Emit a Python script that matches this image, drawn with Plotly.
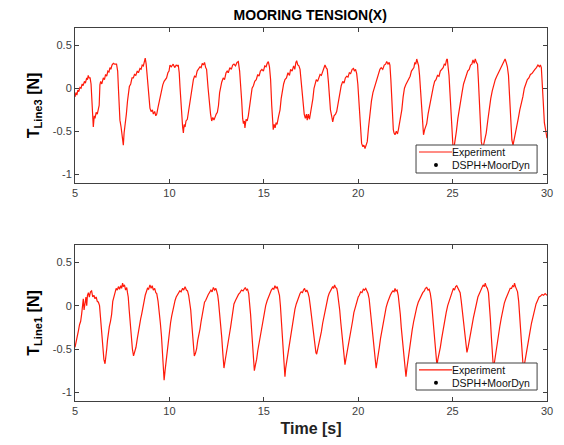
import plotly.graph_objects as go
from plotly.subplots import make_subplots

# ---- Data: (time [s], tension [N]) ----
line3_samples = [
    (5.0, -0.10), (5.05, -0.05), (5.1, -0.08), (5.15, -0.02), (5.2, -0.04), (5.26, 0.01), (5.32, 0.0),
    (5.38, 0.05), (5.43, 0.03), (5.5, 0.08), (5.55, 0.06), (5.62, 0.12), (5.66, 0.1), (5.7, 0.15),
    (5.75, 0.12), (5.8, 0.12), (5.85, 0.05), (5.9, -0.2), (5.97, -0.45), (6.02, -0.32), (6.06, -0.35),
    (6.12, -0.28), (6.18, -0.3), (6.24, -0.24), (6.28, -0.2), (6.32, 0.04), (6.36, 0.08), (6.42, 0.05),
    (6.5, 0.12), (6.56, 0.1), (6.62, 0.16), (6.68, 0.14), (6.74, 0.2), (6.8, 0.19), (6.85, 0.24),
    (6.9, 0.22), (6.96, 0.27), (7.03, 0.29), (7.1, 0.28), (7.2, 0.28), (7.26, 0.2), (7.3, 0.0),
    (7.38, -0.37), (7.44, -0.45), (7.5, -0.55), (7.56, -0.66), (7.6, -0.52), (7.65, -0.45), (7.72, -0.3),
    (7.78, -0.15), (7.82, -0.1), (7.88, 0.02), (7.95, 0.05), (8.02, 0.12), (8.09, 0.12), (8.15, 0.16),
    (8.22, 0.15), (8.3, 0.2), (8.36, 0.18), (8.44, 0.23), (8.5, 0.22), (8.56, 0.27), (8.62, 0.26),
    (8.68, 0.33), (8.72, 0.35), (8.77, 0.28), (8.83, 0.1), (8.9, -0.1), (8.97, -0.23), (9.03, -0.27),
    (9.1, -0.25), (9.15, -0.3), (9.22, -0.27), (9.28, -0.32), (9.33, -0.3), (9.4, -0.22), (9.5, -0.1),
    (9.58, -0.02), (9.65, 0.04), (9.72, 0.08), (9.77, 0.1), (9.85, 0.12), (9.92, 0.18), (9.98, 0.2),
    (10.03, 0.27), (10.1, 0.25), (10.2, 0.28), (10.28, 0.24), (10.36, 0.27), (10.42, 0.26), (10.47, 0.27),
    (10.52, 0.18), (10.56, 0.02), (10.61, -0.2), (10.65, -0.33), (10.7, -0.45), (10.74, -0.52),
    (10.78, -0.42), (10.83, -0.45), (10.88, -0.38), (10.95, -0.36), (11.02, -0.25), (11.09, -0.17),
    (11.15, -0.05), (11.2, 0.05), (11.27, 0.1), (11.33, 0.14), (11.4, 0.13), (11.47, 0.2), (11.55, 0.22),
    (11.62, 0.25), (11.68, 0.24), (11.74, 0.29), (11.8, 0.27), (11.86, 0.3), (11.92, 0.24), (11.97, 0.22),
    (12.05, 0.0), (12.12, -0.18), (12.18, -0.3), (12.24, -0.38), (12.3, -0.34), (12.36, -0.37),
    (12.41, -0.33), (12.48, -0.3), (12.54, -0.28), (12.6, -0.2), (12.66, -0.05), (12.72, 0.04),
    (12.77, 0.07), (12.85, 0.12), (12.92, 0.1), (13.0, 0.18), (13.06, 0.2), (13.12, 0.18), (13.2, 0.24),
    (13.28, 0.22), (13.35, 0.27), (13.42, 0.28), (13.5, 0.26), (13.58, 0.3), (13.65, 0.31), (13.72, 0.2),
    (13.78, 0.05), (13.83, -0.15), (13.88, -0.35), (13.92, -0.41), (13.97, -0.38), (14.0, -0.46),
    (14.06, -0.36), (14.12, -0.38), (14.18, -0.32), (14.25, -0.2), (14.32, -0.1), (14.38, 0.0),
    (14.45, 0.03), (14.52, 0.08), (14.6, 0.1), (14.68, 0.16), (14.75, 0.14), (14.82, 0.2), (14.9, 0.22),
    (14.98, 0.2), (15.05, 0.26), (15.12, 0.25), (15.18, 0.29), (15.24, 0.31), (15.3, 0.25), (15.36, 0.1),
    (15.42, -0.2), (15.47, -0.4), (15.5, -0.48), (15.55, -0.42), (15.6, -0.46), (15.65, -0.4),
    (15.7, -0.42), (15.78, -0.33), (15.86, -0.25), (15.92, -0.12), (15.98, -0.02), (16.05, 0.05),
    (16.12, 0.1), (16.2, 0.12), (16.28, 0.18), (16.36, 0.15), (16.42, 0.22), (16.5, 0.2), (16.58, 0.26),
    (16.64, 0.22), (16.7, 0.3), (16.74, 0.32), (16.8, 0.27), (16.86, 0.26), (16.92, 0.22), (16.98, 0.05),
    (17.03, -0.1), (17.08, -0.2), (17.14, -0.3), (17.2, -0.35), (17.26, -0.3), (17.3, -0.37),
    (17.36, -0.3), (17.42, -0.36), (17.48, -0.28), (17.54, -0.25), (17.6, -0.12), (17.66, 0.0),
    (17.71, 0.06), (17.78, 0.1), (17.85, 0.08), (17.92, 0.14), (17.98, 0.16), (18.05, 0.15), (18.12, 0.2),
    (18.18, 0.22), (18.24, 0.27), (18.3, 0.24), (18.36, 0.22), (18.42, 0.08), (18.48, -0.12),
    (18.53, -0.25), (18.6, -0.33), (18.65, -0.39), (18.72, -0.32), (18.8, -0.3), (18.86, -0.27),
    (18.95, -0.15), (19.04, -0.02), (19.1, 0.03), (19.18, 0.08), (19.25, 0.06), (19.32, 0.12),
    (19.39, 0.14), (19.46, 0.13), (19.53, 0.18), (19.6, 0.17), (19.68, 0.22), (19.75, 0.23), (19.8, 0.2),
    (19.86, 0.22), (19.92, 0.17), (19.98, 0.05), (20.03, -0.15), (20.08, -0.35), (20.13, -0.55),
    (20.18, -0.64), (20.25, -0.68), (20.3, -0.66), (20.36, -0.7), (20.42, -0.67), (20.48, -0.62),
    (20.55, -0.45), (20.62, -0.29), (20.7, -0.15), (20.78, -0.05), (20.85, 0.0), (20.92, 0.05),
    (21.0, 0.12), (21.08, 0.16), (21.15, 0.22), (21.22, 0.24), (21.3, 0.22), (21.38, 0.27), (21.45, 0.28),
    (21.51, 0.31), (21.58, 0.28), (21.64, 0.3), (21.68, 0.27), (21.73, 0.1), (21.77, -0.1), (21.82, -0.35),
    (21.86, -0.48), (21.9, -0.52), (21.95, -0.54), (22.02, -0.5), (22.08, -0.53), (22.13, -0.48),
    (22.2, -0.4), (22.26, -0.3), (22.31, -0.25), (22.38, -0.1), (22.45, 0.0), (22.52, 0.04), (22.6, 0.08),
    (22.68, 0.12), (22.75, 0.14), (22.82, 0.2), (22.88, 0.22), (22.95, 0.24), (23.0, 0.3), (23.05, 0.28),
    (23.1, 0.34), (23.15, 0.3), (23.2, 0.26), (23.25, 0.15), (23.3, -0.05), (23.36, -0.29), (23.42, -0.5),
    (23.46, -0.54), (23.52, -0.48), (23.58, -0.45), (23.63, -0.41), (23.7, -0.3), (23.78, -0.2),
    (23.85, -0.12), (23.9, -0.08), (23.98, 0.02), (24.05, 0.08), (24.12, 0.1), (24.2, 0.15), (24.28, 0.14),
    (24.35, 0.2), (24.42, 0.22), (24.5, 0.24), (24.56, 0.28), (24.62, 0.27), (24.68, 0.33), (24.72, 0.34),
    (24.76, 0.25), (24.81, 0.15), (24.86, -0.05), (24.92, -0.3), (24.97, -0.5), (25.02, -0.68),
    (25.08, -0.68), (25.14, -0.6), (25.2, -0.5), (25.28, -0.35), (25.36, -0.22), (25.44, -0.12),
    (25.5, -0.05), (25.58, 0.05), (25.65, 0.1), (25.72, 0.14), (25.8, 0.2), (25.88, 0.22), (25.95, 0.27),
    (26.02, 0.28), (26.08, 0.33), (26.14, 0.29), (26.2, 0.34), (26.26, 0.3), (26.32, 0.28), (26.36, 0.12),
    (26.42, -0.15), (26.47, -0.45), (26.52, -0.62), (26.58, -0.68), (26.64, -0.66), (26.7, -0.6),
    (26.78, -0.52), (26.86, -0.38), (26.94, -0.22), (27.02, -0.12), (27.1, -0.03), (27.18, 0.05),
    (27.26, 0.1), (27.34, 0.14), (27.42, 0.18), (27.5, 0.22), (27.58, 0.26), (27.65, 0.28), (27.72, 0.32),
    (27.78, 0.34), (27.84, 0.3), (27.9, 0.25), (27.96, 0.15), (28.02, -0.1), (28.08, -0.37), (28.14, -0.6),
    (28.2, -0.66), (28.26, -0.6), (28.33, -0.5), (28.4, -0.45), (28.48, -0.35), (28.56, -0.25),
    (28.64, -0.18), (28.72, -0.1), (28.8, 0.0), (28.88, 0.05), (28.96, 0.1), (29.04, 0.12), (29.12, 0.16),
    (29.2, 0.17), (29.28, 0.2), (29.36, 0.22), (29.44, 0.24), (29.52, 0.27), (29.6, 0.25), (29.65, 0.27),
    (29.7, 0.24), (29.75, 0.1), (29.8, -0.15), (29.86, -0.4), (29.91, -0.48), (29.96, -0.52), (30.0, -0.58),
]

line1_samples = [
    (5.0, -0.48), (5.06, -0.4), (5.12, -0.35), (5.18, -0.29), (5.24, -0.22), (5.3, -0.18), (5.35, -0.1),
    (5.4, 0.02), (5.44, 0.08), (5.48, -0.05), (5.53, 0.02), (5.58, 0.1), (5.62, 0.0), (5.66, 0.12),
    (5.71, 0.15), (5.76, 0.1), (5.82, 0.16), (5.88, 0.17), (5.94, 0.1), (6.0, 0.12), (6.06, 0.08),
    (6.12, 0.1), (6.18, 0.05), (6.24, 0.04), (6.3, 0.0), (6.36, -0.15), (6.41, -0.36), (6.47, -0.52),
    (6.53, -0.62), (6.59, -0.67), (6.64, -0.6), (6.68, -0.5), (6.72, -0.4), (6.77, -0.29), (6.82, -0.24),
    (6.88, -0.18), (6.94, -0.1), (7.0, 0.05), (7.05, 0.1), (7.12, 0.16), (7.18, 0.2), (7.24, 0.18),
    (7.3, 0.22), (7.36, 0.19), (7.42, 0.23), (7.47, 0.2), (7.52, 0.26), (7.56, 0.22), (7.62, 0.24),
    (7.68, 0.18), (7.74, 0.21), (7.78, 0.15), (7.82, 0.1), (7.87, -0.05), (7.92, -0.2), (7.98, -0.38),
    (8.04, -0.5), (8.1, -0.58), (8.16, -0.54), (8.23, -0.48), (8.3, -0.38), (8.35, -0.3), (8.42, -0.22),
    (8.48, -0.15), (8.53, -0.1), (8.6, 0.0), (8.66, 0.06), (8.72, 0.12), (8.78, 0.16), (8.84, 0.2),
    (8.9, 0.19), (8.97, 0.24), (9.03, 0.2), (9.09, 0.23), (9.15, 0.18), (9.22, 0.2), (9.28, 0.15),
    (9.33, 0.14), (9.4, 0.05), (9.46, -0.05), (9.52, -0.2), (9.58, -0.35), (9.64, -0.55), (9.69, -0.75),
    (9.72, -0.86), (9.77, -0.75), (9.82, -0.65), (9.88, -0.5), (9.94, -0.4), (10.0, -0.3), (10.06, -0.2),
    (10.12, -0.12), (10.18, -0.05), (10.24, 0.02), (10.3, 0.06), (10.36, 0.1), (10.42, 0.12), (10.48, 0.14),
    (10.55, 0.17), (10.62, 0.16), (10.7, 0.2), (10.76, 0.18), (10.83, 0.22), (10.9, 0.18), (10.96, 0.17),
    (11.02, 0.12), (11.08, 0.05), (11.13, -0.05), (11.18, -0.2), (11.23, -0.36), (11.28, -0.5),
    (11.32, -0.58), (11.38, -0.55), (11.44, -0.5), (11.5, -0.4), (11.56, -0.35), (11.62, -0.27),
    (11.68, -0.18), (11.74, -0.1), (11.8, -0.02), (11.86, 0.04), (11.92, 0.06), (11.98, 0.1), (12.06, 0.13),
    (12.12, 0.15), (12.2, 0.18), (12.26, 0.16), (12.33, 0.21), (12.4, 0.18), (12.46, 0.2), (12.5, 0.17),
    (12.56, 0.12), (12.6, 0.05), (12.66, -0.08), (12.72, -0.22), (12.77, -0.36), (12.83, -0.55),
    (12.89, -0.72), (12.94, -0.65), (13.0, -0.58), (13.06, -0.48), (13.12, -0.4), (13.18, -0.33),
    (13.24, -0.25), (13.3, -0.15), (13.36, -0.06), (13.42, 0.02), (13.5, 0.06), (13.58, 0.1), (13.66, 0.13),
    (13.74, 0.15), (13.82, 0.18), (13.9, 0.17), (13.96, 0.2), (14.02, 0.21), (14.08, 0.18), (14.14, 0.19),
    (14.2, 0.14), (14.26, 0.02), (14.3, -0.1), (14.36, -0.3), (14.41, -0.51), (14.46, -0.65), (14.5, -0.75),
    (14.56, -0.68), (14.62, -0.62), (14.68, -0.52), (14.74, -0.44), (14.8, -0.36), (14.88, -0.25),
    (14.96, -0.15), (15.03, -0.08), (15.1, 0.0), (15.18, 0.06), (15.25, 0.1), (15.33, 0.15), (15.4, 0.18),
    (15.47, 0.2), (15.53, 0.19), (15.59, 0.23), (15.65, 0.2), (15.71, 0.22), (15.77, 0.18), (15.83, 0.12),
    (15.88, 0.0), (15.93, -0.15), (15.98, -0.35), (16.03, -0.5), (16.08, -0.7), (16.12, -0.82),
    (16.16, -0.72), (16.2, -0.66), (16.25, -0.6), (16.32, -0.5), (16.38, -0.4), (16.44, -0.3),
    (16.5, -0.22), (16.58, -0.12), (16.65, -0.04), (16.72, 0.02), (16.8, 0.08), (16.86, 0.1), (16.92, 0.14),
    (16.98, 0.16), (17.05, 0.15), (17.1, 0.18), (17.16, 0.2), (17.22, 0.16), (17.28, 0.18), (17.34, 0.15),
    (17.4, 0.1), (17.46, 0.0), (17.52, -0.12), (17.58, -0.25), (17.64, -0.38), (17.7, -0.48), (17.76, -0.54),
    (17.8, -0.56), (17.86, -0.5), (17.92, -0.45), (17.98, -0.38), (18.05, -0.3), (18.12, -0.2),
    (18.2, -0.1), (18.27, -0.02), (18.33, 0.05), (18.4, 0.1), (18.46, 0.14), (18.53, 0.17), (18.59, 0.2),
    (18.65, 0.22), (18.7, 0.2), (18.75, 0.24), (18.8, 0.21), (18.86, 0.2), (18.9, 0.16), (18.96, 0.08),
    (19.02, -0.05), (19.08, -0.2), (19.14, -0.35), (19.2, -0.5), (19.25, -0.6), (19.3, -0.68),
    (19.36, -0.6), (19.43, -0.52), (19.5, -0.42), (19.56, -0.35), (19.62, -0.28), (19.7, -0.18),
    (19.77, -0.08), (19.84, -0.02), (19.92, 0.05), (20.0, 0.1), (20.06, 0.12), (20.13, 0.16), (20.2, 0.15),
    (20.27, 0.19), (20.33, 0.18), (20.4, 0.2), (20.46, 0.17), (20.52, 0.14), (20.58, 0.08), (20.64, -0.05),
    (20.7, -0.2), (20.76, -0.35), (20.82, -0.5), (20.88, -0.6), (20.95, -0.72), (21.0, -0.65),
    (21.06, -0.58), (21.12, -0.48), (21.18, -0.38), (21.24, -0.3), (21.32, -0.2), (21.4, -0.1),
    (21.48, -0.02), (21.56, 0.04), (21.64, 0.1), (21.7, 0.12), (21.77, 0.15), (21.84, 0.17), (21.9, 0.16),
    (21.95, 0.2), (22.0, 0.17), (22.06, 0.18), (22.12, 0.12), (22.18, 0.02), (22.23, -0.1), (22.28, -0.25),
    (22.34, -0.4), (22.39, -0.52), (22.45, -0.65), (22.5, -0.75), (22.53, -0.82), (22.58, -0.72),
    (22.62, -0.65), (22.68, -0.55), (22.74, -0.45), (22.8, -0.35), (22.86, -0.28), (22.94, -0.18),
    (23.02, -0.08), (23.1, -0.02), (23.18, 0.04), (23.26, 0.08), (23.34, 0.12), (23.42, 0.15), (23.5, 0.17),
    (23.56, 0.2), (23.63, 0.21), (23.7, 0.18), (23.76, 0.19), (23.82, 0.14), (23.88, 0.05), (23.94, -0.1),
    (24.0, -0.3), (24.06, -0.48), (24.12, -0.6), (24.17, -0.69), (24.22, -0.62), (24.28, -0.56),
    (24.35, -0.48), (24.42, -0.38), (24.5, -0.27), (24.58, -0.18), (24.66, -0.08), (24.74, 0.0),
    (24.82, 0.06), (24.9, 0.12), (24.97, 0.15), (25.04, 0.2), (25.1, 0.18), (25.16, 0.22), (25.22, 0.23),
    (25.28, 0.2), (25.34, 0.19), (25.4, 0.15), (25.46, 0.05), (25.52, -0.08), (25.58, -0.2), (25.64, -0.35),
    (25.7, -0.48), (25.76, -0.54), (25.82, -0.48), (25.88, -0.42), (25.95, -0.32), (26.02, -0.24),
    (26.1, -0.14), (26.18, -0.05), (26.26, 0.04), (26.34, 0.1), (26.42, 0.14), (26.5, 0.18), (26.56, 0.2),
    (26.62, 0.24), (26.68, 0.22), (26.73, 0.26), (26.78, 0.22), (26.84, 0.2), (26.9, 0.15), (26.95, 0.02),
    (27.0, -0.15), (27.05, -0.35), (27.1, -0.55), (27.16, -0.72), (27.22, -0.65), (27.28, -0.55),
    (27.34, -0.48), (27.42, -0.36), (27.5, -0.24), (27.58, -0.14), (27.66, -0.05), (27.74, 0.03),
    (27.82, 0.08), (27.9, 0.12), (27.98, 0.16), (28.05, 0.2), (28.12, 0.2), (28.18, 0.23), (28.24, 0.22),
    (28.28, 0.26), (28.33, 0.22), (28.38, 0.2), (28.44, 0.16), (28.5, 0.05), (28.55, -0.12), (28.6, -0.3),
    (28.66, -0.5), (28.72, -0.65), (28.77, -0.72), (28.83, -0.65), (28.9, -0.58), (28.96, -0.5),
    (29.03, -0.4), (29.1, -0.3), (29.18, -0.2), (29.26, -0.12), (29.34, -0.04), (29.42, 0.02), (29.5, 0.06),
    (29.58, 0.1), (29.66, 0.11), (29.74, 0.13), (29.82, 0.12), (29.9, 0.14), (30.0, 0.12),
]

t3 = [p[0] for p in line3_samples]
v3 = [p[1] for p in line3_samples]
t1 = [p[0] for p in line1_samples]
v1 = [p[1] for p in line1_samples]

x_ticks = [5, 10, 15, 20, 25, 30]
y_ticks = [-1, -0.5, 0, 0.5]
y_ticktext = ["-1", "-0.5", "0", "0.5"]
legend_names = ["Experiment", "DSPH+MoorDyn"]

RED = "#ff1a0a"
AX = "#404040"
FONT = "Liberation Sans, Arial, sans-serif"

fig = make_subplots(rows=2, cols=1, vertical_spacing=0.0)

fig.add_trace(go.Scatter(x=t3, y=v3, mode="lines", line=dict(color=RED, width=1.2),
                         name=legend_names[0], showlegend=False), row=1, col=1)
fig.add_trace(go.Scatter(x=t1, y=v1, mode="lines", line=dict(color=RED, width=1.2),
                         name=legend_names[0], showlegend=False), row=2, col=1)

axis_common = dict(showline=True, linecolor=AX, linewidth=1, mirror="ticks", ticks="inside",
                   ticklen=4, tickcolor=AX, showgrid=False, zeroline=False,
                   tickfont=dict(family=FONT, size=11, color=AX))

fig.update_xaxes(range=[5, 30], tickvals=x_ticks, **axis_common)
fig.update_yaxes(range=[-1.1, 0.7], tickvals=y_ticks, ticktext=y_ticktext, **axis_common)

fig.update_layout(
    xaxis=dict(domain=[0, 1]),
    yaxis=dict(domain=[0.5845, 1.0],
               title=dict(text="<b>T<sub>Line3</sub> [N]</b>", font=dict(family=FONT, size=16, color="black"),
                          standoff=9)),
    xaxis2=dict(domain=[0, 1],
                title=dict(text="<b>Time [s]</b>", font=dict(family=FONT, size=16, color="#222222"),
                           standoff=6)),
    yaxis2=dict(domain=[0.0, 0.4182],
                title=dict(text="<b>T<sub>Line1</sub> [N]</b>", font=dict(family=FONT, size=16, color="black"),
                           standoff=9)),
)

# ---- compact MATLAB-style legend boxes (drawn in axis-domain units) ----
shapes = []
annotations = []
for xs, ys, y_rows, (yb, yt) in [("x", "y", (0.20, 0.116), (0.0645, 0.245)),
                                 ("x2", "y2", (0.199, 0.117), (0.0705, 0.2436))]:
    xr, yr = f"{xs} domain", f"{ys} domain"
    shapes.append(dict(type="rect", xref=xr, yref=yr, x0=0.7225, x1=0.979, y0=yb, y1=yt,
                       fillcolor="white", line=dict(color=AX, width=1), layer="above"))
    shapes.append(dict(type="line", xref=xr, yref=yr, x0=0.7288, x1=0.7987, y0=y_rows[0], y1=y_rows[0],
                       line=dict(color=RED, width=1.2), layer="above"))
    shapes.append(dict(type="circle", xref=xr, yref=yr, x0=0.7648 - 0.0042, x1=0.7648 + 0.0042,
                       y0=y_rows[1] - 0.0128, y1=y_rows[1] + 0.0128,
                       fillcolor="black", line=dict(color="black", width=0), layer="above"))
    for name, yrow in zip(legend_names, y_rows):
        annotations.append(dict(text=name, xref=xr, yref=yr, x=0.797, y=yrow, xanchor="left",
                                yanchor="middle", showarrow=False, borderpad=0,
                                font=dict(family=FONT, size=10.5, color="#111111")))

fig.update_layout(
    width=564, height=445,
    margin=dict(l=75, r=17, t=28, b=44),
    paper_bgcolor="white", plot_bgcolor="white",
    title=dict(text="<b>MOORING TENSION(X)</b>", x=0.55, xanchor="center", y=0.967, yanchor="middle",
               font=dict(family=FONT, size=14, color="black")),
    shapes=shapes,
    annotations=annotations,
    showlegend=False,
)

fig.write_html("out.html")
